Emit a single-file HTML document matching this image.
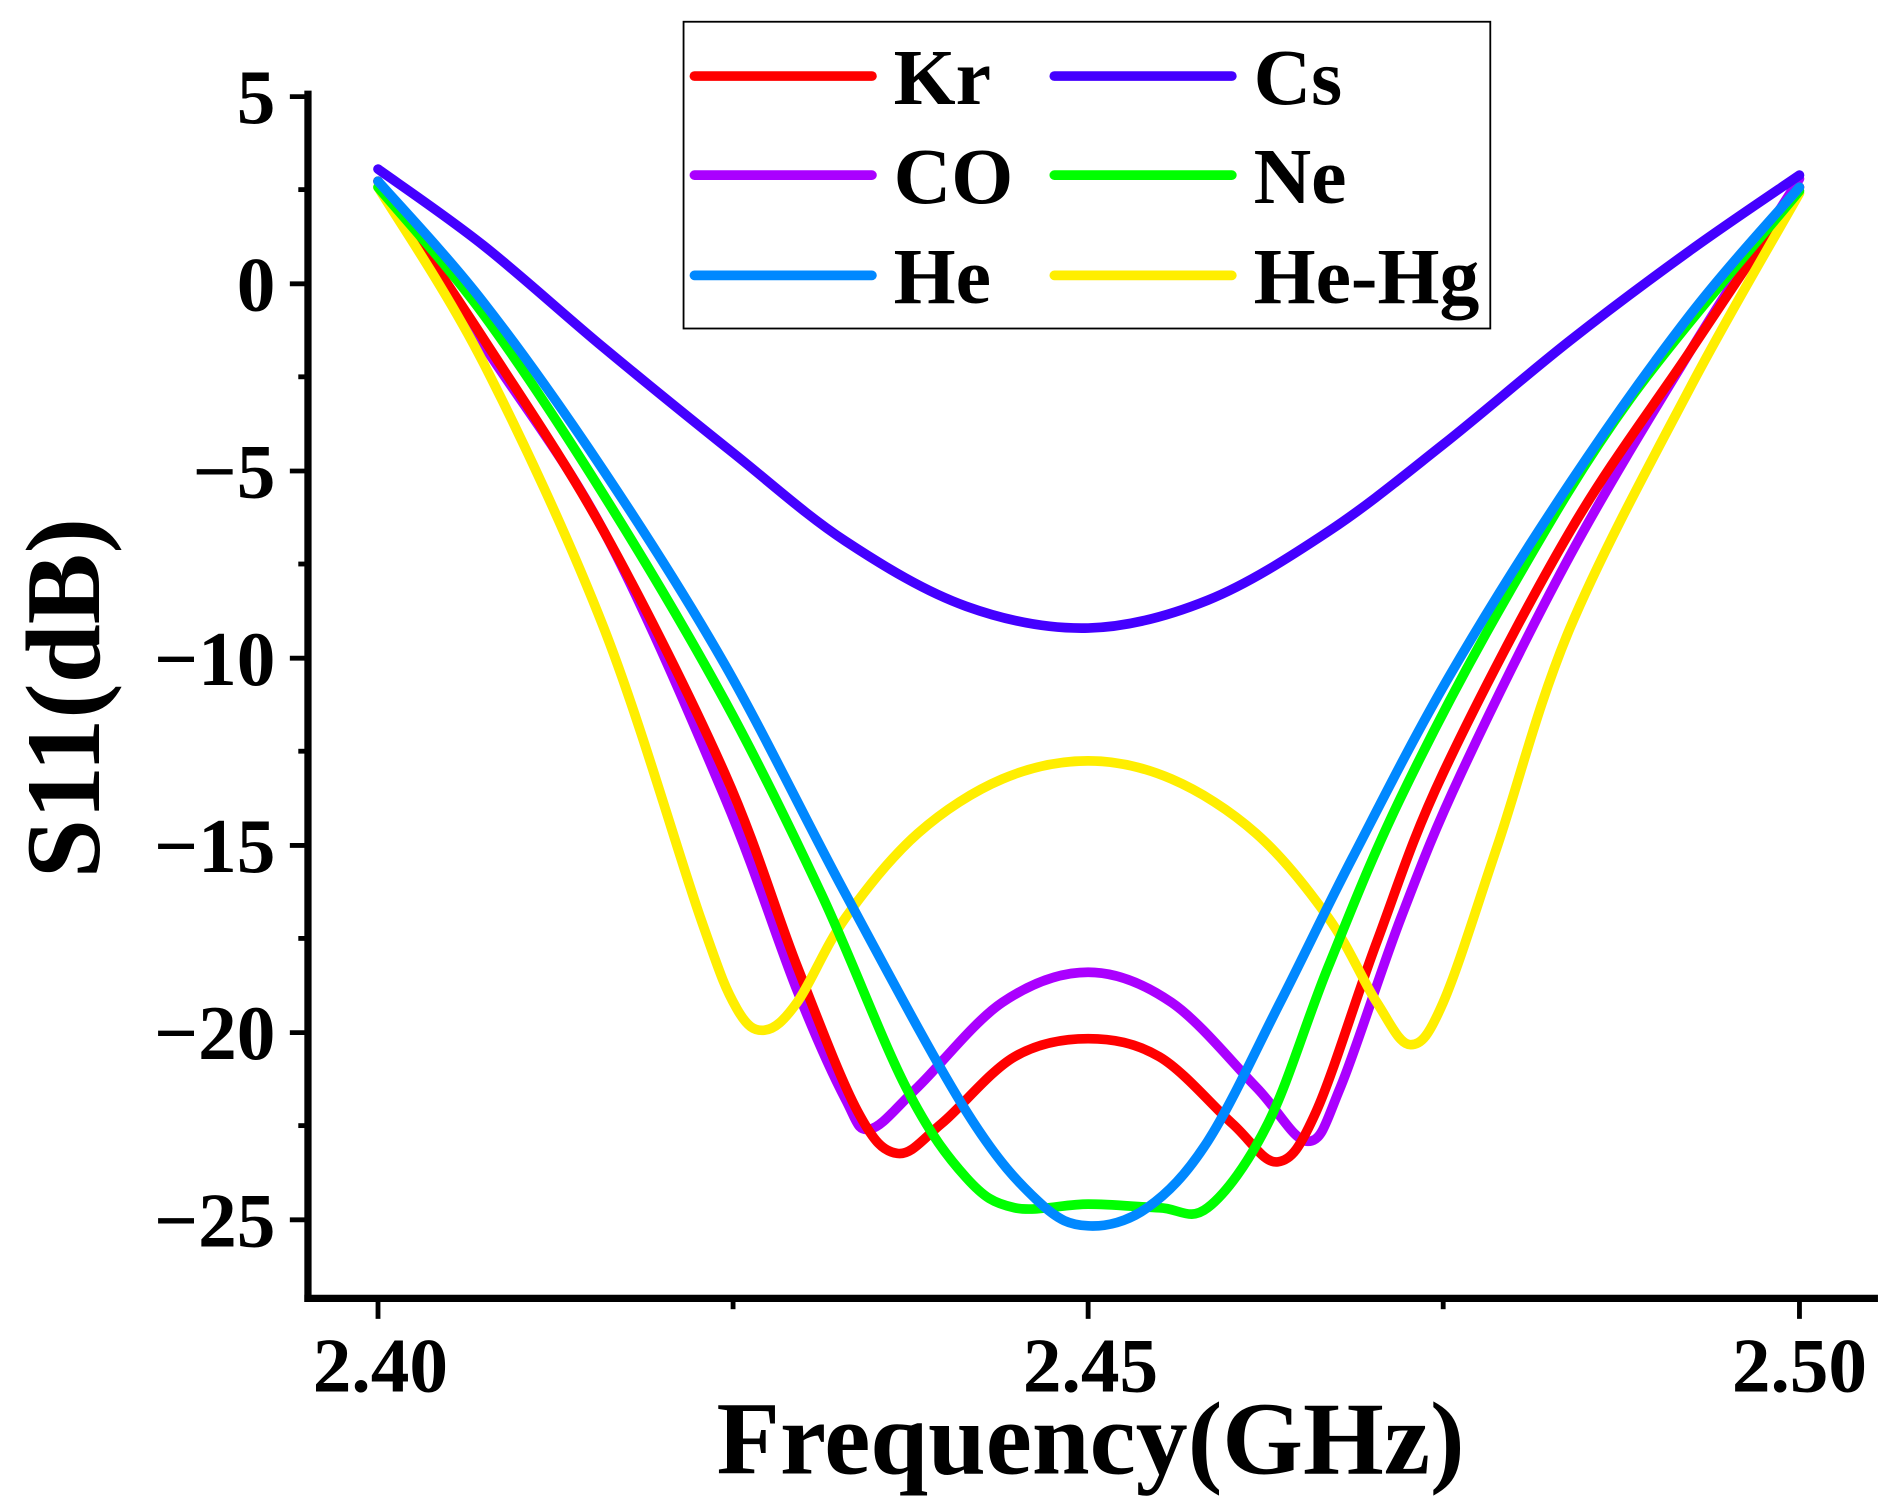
<!DOCTYPE html>
<html><head><meta charset="utf-8"><style>html,body{margin:0;padding:0;background:#fff}svg{display:block}</style></head>
<body>
<svg id="s" width="1884" height="1504" viewBox="0 0 1560 1245.3" preserveAspectRatio="none" xmlns="http://www.w3.org/2000/svg" font-family="Liberation Serif, serif" font-weight="bold">
<rect width="1560" height="1246" fill="#fff"/>
<g id="curves" fill="none" stroke-width="8" stroke-linecap="round" stroke-linejoin="round"></g>
<g stroke="#000" stroke-width="6">
<line x1="255" y1="75" x2="255" y2="1078"/>
<line x1="252" y1="1075" x2="1555" y2="1075"/>
</g>
<g stroke="#000" stroke-width="4">
<line x1="240" y1="80" x2="255" y2="80"/><line x1="240" y1="235" x2="255" y2="235"/><line x1="240" y1="390" x2="255" y2="390"/><line x1="240" y1="545" x2="255" y2="545"/><line x1="240" y1="700" x2="255" y2="700"/><line x1="240" y1="855" x2="255" y2="855"/><line x1="240" y1="1010" x2="255" y2="1010"/>
<line x1="247" y1="157" x2="255" y2="157"/><line x1="247" y1="312" x2="255" y2="312"/><line x1="247" y1="467" x2="255" y2="467"/><line x1="247" y1="622" x2="255" y2="622"/><line x1="247" y1="777" x2="255" y2="777"/><line x1="247" y1="932" x2="255" y2="932"/>
<line x1="313" y1="1075" x2="313" y2="1092"/><line x1="901" y1="1075" x2="901" y2="1092"/><line x1="1490" y1="1075" x2="1490" y2="1092"/>
<line x1="607" y1="1075" x2="607" y2="1084"/><line x1="1195" y1="1075" x2="1195" y2="1084"/>
</g>
<g font-size="64" text-anchor="end">
<text x="228" y="102">5</text><text x="228" y="257">0</text><text x="228" y="412">−5</text><text x="228" y="567">−10</text><text x="228" y="722">−15</text><text x="228" y="877">−20</text><text x="228" y="1032">−25</text>
</g>
<g font-size="64" text-anchor="middle">
<text x="315" y="1152">2.40</text><text x="903" y="1152">2.45</text><text x="1490" y="1152">2.50</text>
</g>
<text x="903" y="1220" font-size="86" text-anchor="middle">Frequency(GHz)</text>
<text transform="translate(82,578) rotate(-90)" font-size="88" text-anchor="middle">S11(dB)</text>
<rect x="566" y="18" width="668" height="254" fill="#fff" stroke="#000" stroke-width="1.5"/>
<g stroke-width="8" stroke-linecap="round">
<line x1="575" y1="63" x2="722" y2="63" stroke="#ff0000"/><line x1="873" y1="63" x2="1020" y2="63" stroke="#4400ff"/>
<line x1="575" y1="145" x2="722" y2="145" stroke="#aa00ff"/><line x1="873" y1="145" x2="1020" y2="145" stroke="#00ff00"/>
<line x1="575" y1="228" x2="722" y2="228" stroke="#0088ff"/><line x1="873" y1="228" x2="1020" y2="228" stroke="#ffee00"/>
</g>
<g font-size="66">
<text x="740" y="86">Kr</text><text x="1038" y="86">Cs</text>
<text x="740" y="168">CO</text><text x="1038" y="168">Ne</text>
<text x="740" y="251">He</text><text x="1038" y="251">He-Hg</text>
</g>
</svg>
<script>
var S={
"#aa00ff":[[313,150],[400,285],[500,440],[600,660],[660,820],[700,910],[720,935],[760,900],[830,830],[901,805],[970,830],[1040,900],[1083,945],[1110,900],[1160,760],[1210,640],[1300,460],[1400,290],[1490,148]],
"#ff0000":[[313,150],[400,280],[500,440],[600,640],[660,800],[710,920],[743,955],[780,930],[840,875],[901,860],[960,875],[1020,930],[1058,962],[1090,920],[1140,780],[1195,640],[1300,440],[1400,290],[1490,155]],
"#ffee00":[[313,155],[400,300],[500,520],[580,760],[610,835],[633,853],[660,830],[700,760],[760,690],[830,645],[901,630],[970,645],[1040,690],[1100,760],[1140,830],[1168,865],[1195,830],[1240,700],[1300,520],[1400,320],[1490,160]],
"#00ff00":[[313,155],[400,260],[500,410],[600,580],[680,740],[750,900],[800,975],[840,1000],[901,997],[960,1000],[1000,1000],[1050,930],[1100,800],[1160,660],[1250,490],[1350,330],[1490,158]],
"#0088ff":[[313,150],[400,250],[500,390],[600,550],[700,740],[800,920],[860,995],[901,1015],[950,1000],[1000,945],[1060,830],[1120,710],[1200,560],[1300,400],[1400,260],[1490,155]],
"#4400ff":[[313,140],[400,203],[500,288],[607,375],[700,448],[800,502],[901,520],[1000,497],[1100,440],[1195,368],[1300,282],[1400,207],[1490,145]]};
var g=document.getElementById("curves"),ns="http://www.w3.org/2000/svg";
for(var c in S){var p=S[c],d="M"+p[0][0]+","+p[0][1];
for(var i=0;i<p.length-1;i++){var a=p[i-1]||p[i],b=p[i],e=p[i+1],f=p[i+2]||e;
d+=" C"+(b[0]+(e[0]-a[0])/6)+","+(b[1]+(e[1]-a[1])/6)+" "+(e[0]-(f[0]-b[0])/6)+","+(e[1]-(f[1]-b[1])/6)+" "+e[0]+","+e[1];}
var el=document.createElementNS(ns,"path");el.setAttribute("d",d);el.setAttribute("stroke",c);g.appendChild(el);}
</script>
</body></html>
